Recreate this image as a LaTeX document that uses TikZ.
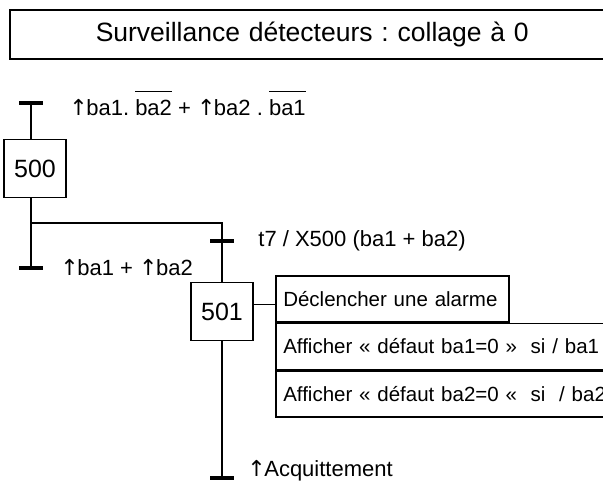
\documentclass[tikz,border=0pt]{standalone}
\usepackage{fontspec}
\setmainfont{Liberation Sans}
\newfontfamily\flechefont{DejaVu Sans}
\usetikzlibrary{positioning}

% front montant et complement (barre au-dessus)
\newcommand\fm{{\flechefont\char"2191\relax}\kern-1.5pt}
\newcommand\barre[1]{\setbox0\hbox{#1}\rlap{\raisebox{1.05em}{\rule{\wd0}{1.6pt}}}\box0\relax}
\frenchspacing

\begin{document}
\begin{tikzpicture}[
    x=1pt, y=-1pt,
    etape/.style={rectangle, draw, line width=1.5pt, minimum width=62pt, minimum height=58pt, inner sep=0pt, font=\fontsize{25}{30}\selectfont},
    recep/.style={rectangle, fill=black, minimum width=24pt, minimum height=4.5pt, inner sep=0pt},
    cond/.style={inner sep=0pt, anchor=west, font=\fontsize{22}{26}\selectfont},
    action/.style={rectangle, draw, line width=1.5pt, anchor=north west, minimum height=46pt, inner xsep=7.5pt, inner ysep=0pt, align=left, font=\fontsize{20.5}{26}\selectfont},
    liaison/.style={line width=1.5pt}
]
\useasboundingbox (0,0) rectangle (603,482);

% Titre
\node [rectangle, draw, line width=1.5pt, anchor=north west, minimum height=49pt, text width=439pt, inner xsep=86pt, align=left, font=\fontsize{26.5}{32}\selectfont] (titre) at (9,9) {Surveillance détecteurs : collage à 0};

% Etape 500
\node [recep] (t0) at (31,103) {};
\node [cond, right=26pt of t0] (c0) {\fm ba1. \barre{ba2} + \fm ba2 . \barre{ba1}};
\node [etape] (e500) at (35,168.5) {500};
\draw [liaison] (t0) -- (t0 |- e500.north);

% Divergence en OU
\coordinate (div) at (31,223);
\node [recep] (t1) at (31,268) {};
\node [cond, right=17pt of t1] (c1) {\fm ba1 + \fm ba2};
\node [recep] (t2) at (222,241) {};
\node [cond, right=24pt of t2] (c2) {t7 / X500 (ba1 + ba2)};
\draw [liaison] (t0 |- e500.south) -- (t1);
\draw [liaison] (div) -| (t2);

% Etape 501 et actions
\node [etape] (e501) at (222,311.5) {501};
\node [action, text width=218pt] (a1) at (275,275) {\mbox{Déclencher une alarme}};
\node [action, text width=400pt] (a2) at (a1.south west) {Afficher « défaut ba1=0 »\ \ si / ba1};
\node [action, text width=400pt] (a3) at (a2.south west) {Afficher « défaut ba2=0 «\ \ si\ \ / ba2};
\draw [liaison] (t2) -- (e501.north);
\draw [liaison] ([yshift=7pt]e501.east) -- ([yshift=7pt]e501.east -| a1.west);

% Acquittement
\node [recep] (t3) at (222,478) {};
\node [cond, right=13pt of t3, yshift=7pt] (c3) {\fm Acquittement};
\draw [liaison] (e501.south) -- (t3);
\end{tikzpicture}
\end{document}
